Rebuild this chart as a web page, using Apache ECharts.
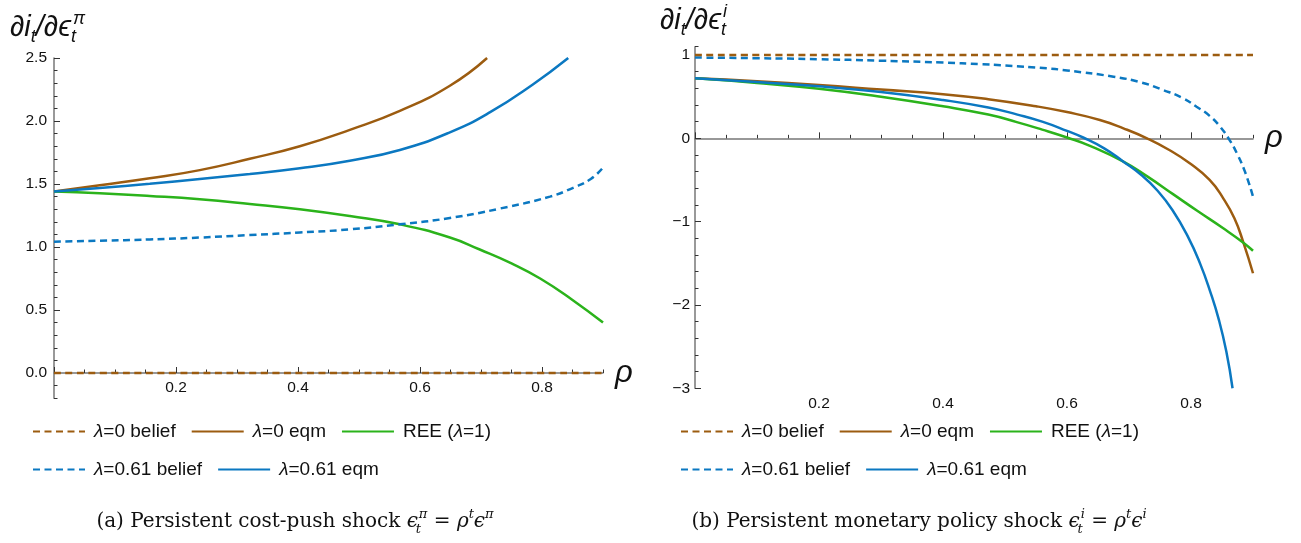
<!DOCTYPE html>
<html><head><meta charset="utf-8">
<script src="https://cdn.jsdelivr.net/npm/echarts@6/dist/echarts.min.js"></script>
<style>html,body{margin:0;padding:0;background:#fff}#c{width:1301px;height:543px}</style>
</head><body><div id="c"></div>
<script>
// ---------- DATA ----------
const rhoLabels = [0.2, 0.4, 0.6, 0.8];
const leftYLabels = [0, 0.5, 1, 1.5, 2, 2.5];
const rightYLabels = [-3, -2, -1, 0, 1];
const seriesNames = ['λ=0 belief', 'λ=0 eqm', 'REE (λ=1)', 'λ=0.61 belief', 'λ=0.61 eqm'];

// Panel (a): persistent cost-push shock  [rho, d i / d eps]
const a_belief0 = [[0, 0], [0.9, 0]];
const a_eqm0 = [[0,1.44],[0.075,1.49],[0.157,1.545],[0.239,1.61],[0.321,1.70],[0.403,1.80],[0.485,1.93],[0.567,2.08],[0.649,2.28],[0.71,2.5]];
const a_ree = [[0,1.44],[0.075,1.426],[0.157,1.405],[0.239,1.379],[0.321,1.342],[0.403,1.30],[0.485,1.246],[0.567,1.18],[0.649,1.075],[0.698,0.98],[0.75,0.87],[0.797,0.75],[0.85,0.58],[0.9,0.40]];
const a_belief61 = [[0,1.042],[0.075,1.05],[0.157,1.06],[0.239,1.075],[0.321,1.095],[0.403,1.115],[0.485,1.14],[0.567,1.18],[0.649,1.23],[0.731,1.305],[0.813,1.40],[0.851,1.47],[0.88,1.54],[0.9,1.63]];
const a_eqm61 = [[0,1.44],[0.075,1.468],[0.157,1.502],[0.239,1.54],[0.321,1.58],[0.403,1.625],[0.485,1.685],[0.567,1.77],[0.649,1.91],[0.715,2.07],[0.785,2.29],[0.843,2.5]];

// Panel (b): persistent monetary policy shock
const b_belief0 = [[0, 1], [0.9, 1]];
const b_eqm0 = [[0,0.72],[0.1,0.685],[0.2,0.64],[0.3,0.585],[0.4,0.53],[0.473,0.47],[0.55,0.385],[0.6,0.315],[0.653,0.22],[0.691,0.12],[0.729,0],[0.765,-0.14],[0.798,-0.30],[0.83,-0.50],[0.852,-0.72],[0.87,-0.96],[0.884,-1.24],[0.9,-1.62]];
const b_ree = [[0,0.72],[0.1,0.665],[0.2,0.595],[0.3,0.50],[0.4,0.385],[0.473,0.285],[0.519,0.195],[0.56,0.105],[0.6,0.01],[0.637,-0.09],[0.691,-0.28],[0.73,-0.46],[0.771,-0.67],[0.81,-0.87],[0.852,-1.08],[0.884,-1.25],[0.9,-1.35]];
const b_belief61 = [[0,0.97],[0.1,0.962],[0.2,0.95],[0.3,0.932],[0.4,0.91],[0.46,0.89],[0.5,0.875],[0.567,0.84],[0.6,0.815],[0.675,0.74],[0.72,0.67],[0.755,0.58],[0.785,0.49],[0.809,0.38],[0.83,0.27],[0.847,0.14],[0.863,-0.03],[0.874,-0.18],[0.887,-0.40],[0.9,-0.70]];
const b_eqm61 = [[0,0.72],[0.1,0.675],[0.2,0.625],[0.3,0.555],[0.4,0.46],[0.473,0.37],[0.52,0.285],[0.56,0.20],[0.6,0.09],[0.626,0.01],[0.66,-0.12],[0.691,-0.28],[0.72,-0.44],[0.745,-0.62],[0.77,-0.86],[0.795,-1.18],[0.815,-1.51],[0.831,-1.84],[0.845,-2.18],[0.857,-2.56],[0.867,-3.0]];

// ---------- STYLE / LAYOUT ----------
const BROWN = '#9C5C10', GREEN = '#2BB31B', BLUE = '#0B78C1';
const seriesStyle = [
  {color: BROWN, type: [7, 4.5]},
  {color: BROWN, type: 'solid'},
  {color: GREEN, type: 'solid'},
  {color: BLUE, type: [7, 4.5]},
  {color: BLUE, type: 'solid'}
];
const panels = [
  {left: 54, xw: 610, top: 58, ymin: -0.2, ymax: 2.5, ypx: 126, yMinor: 0.1,
   yMajMin: 0, yMajMax: 2.5, yMaj: 0.5, yLabels: leftYLabels, yFmt: v => v.toFixed(1), yMargin: 7,
   data: [a_belief0, a_eqm0, a_ree, a_belief61, a_eqm61]},
  {left: 695, xw: 620, top: 46.7, ymin: -3, ymax: 1.1, ypx: 83.3, yMinor: 0.2,
   yMajMin: -3, yMajMax: 1, yMaj: 1, yLabels: rightYLabels, yFmt: v => String(v).replace('-', '\u2212'), yMargin: 5,
   data: [b_belief0, b_eqm0, b_ree, b_belief61, b_eqm61]}
];

const AXIS_COLOR = '#777', TICK_COLOR = '#333';
const labelFont = {fontFamily: 'Liberation Sans', fontSize: 15.5, color: '#111'};

const grid = [], xAxis = [], yAxis = [], series = [];
panels.forEach((p, pi) => {
  const gA = grid.length;
  grid.push({left: p.left, top: p.top, width: 0.9 * p.xw, height: (p.ymax - p.ymin) * p.ypx, containLabel: false});
  xAxis.push({gridIndex: gA, type: 'value', min: 0, max: 0.9, interval: 0.05,
    axisLine: {show: true, onZero: true, lineStyle: {color: AXIS_COLOR, width: 1.5}},
    axisTick: {show: true, inside: true, length: 3.5, lineStyle: {color: TICK_COLOR}},
    axisLabel: {show: false}, splitLine: {show: false},
    name: 'ρ', nameLocation: 'end', nameGap: 12,
    nameTextStyle: {fontFamily: 'Liberation Sans', fontStyle: 'italic', fontSize: 31, color: '#111',
      verticalAlign: 'middle', padding: [20, 0, 0, 0]}});
  yAxis.push({gridIndex: gA, type: 'value', min: p.ymin, max: p.ymax, interval: p.yMinor,
    axisLine: {show: true, onZero: false, lineStyle: {color: AXIS_COLOR, width: 1.5}},
    axisTick: {show: true, inside: true, length: 3.5, lineStyle: {color: TICK_COLOR}},
    axisLabel: {show: false}, splitLine: {show: false}});
  const gM = grid.length;
  grid.push({left: p.left, top: p.top + (p.ymax - p.yMajMax) * p.ypx, width: 0.8 * p.xw,
    height: (p.yMajMax - p.yMajMin) * p.ypx, containLabel: false});
  xAxis.push({gridIndex: gM, type: 'value', min: 0, max: 0.8, interval: 0.2,
    axisLine: {show: false, onZero: true},
    axisTick: {show: true, inside: true, length: 6, lineStyle: {color: TICK_COLOR}},
    axisLabel: Object.assign({show: true, margin: 7,
      formatter: v => rhoLabels.some(r => Math.abs(r - v) < 1e-9) ? v.toFixed(1) : ''}, labelFont),
    splitLine: {show: false}});
  yAxis.push({gridIndex: gM, type: 'value', min: p.yMajMin, max: p.yMajMax, interval: p.yMaj,
    axisLine: {show: false, onZero: false},
    axisTick: {show: true, inside: true, length: 6, lineStyle: {color: TICK_COLOR}},
    axisLabel: Object.assign({show: true, margin: p.yMargin,
      formatter: v => p.yLabels.some(r => Math.abs(r - v) < 1e-9) ? p.yFmt(v) : ''}, labelFont),
    splitLine: {show: false}});
  p.data.forEach((d, si) => {
    series.push({
      type: 'line', name: seriesNames[si], data: d,
      xAxisIndex: gA, yAxisIndex: gA,
      symbol: 'none', smooth: 0.5, clip: true,
      lineStyle: {color: seriesStyle[si].color, width: 2.5, type: seriesStyle[si].type},
      itemStyle: {color: seriesStyle[si].color},
      z: si === 0 ? 3 : 2
    });
  });
});

function legendRow(left, top, names) {
  return {
    left: left, top: top, padding: 0, orient: 'horizontal', data: names, selectedMode: false,
    itemWidth: 52, itemHeight: 14, itemGap: 15,
    itemStyle: {opacity: 0},
    textStyle: {fontFamily: 'Liberation Sans', fontSize: 19, color: '#111', padding: [0, 0, 0, 4],
      rich: {i: {fontFamily: 'Liberation Sans', fontStyle: 'italic', fontSize: 19, color: '#111'}}},
    formatter: n => n.replace('λ', '{i|λ}')
  };
}
const legend = [
  legendRow(32, 422, seriesNames.slice(0, 3)),
  legendRow(32, 460, seriesNames.slice(3)),
  legendRow(680, 422, seriesNames.slice(0, 3)),
  legendRow(680, 460, seriesNames.slice(3))
];

const nameRich = {
  m: {fontFamily: 'Liberation Sans', fontStyle: 'italic', fontSize: 29, fill: '#111', lineHeight: 36, verticalAlign: 'middle'},
  sb: {fontFamily: 'Liberation Sans', fontStyle: 'italic', fontSize: 18, fill: '#111', lineHeight: 14, verticalAlign: 'bottom'},
  sbz: {fontFamily: 'Liberation Sans', fontStyle: 'italic', fontSize: 18, fill: '#111', lineHeight: 14, verticalAlign: 'bottom', width: 2},
  sp: {fontFamily: 'Liberation Sans', fontStyle: 'italic', fontSize: 18, fill: '#111', lineHeight: 15, verticalAlign: 'top'}
};
const CAPF = 'DejaVu Serif';
const capRich = {
  r: {fontFamily: CAPF, fontSize: 20, fill: '#111', lineHeight: 28, verticalAlign: 'middle'},
  e: {fontFamily: CAPF, fontStyle: 'italic', fontSize: 20, fill: '#111', lineHeight: 28, verticalAlign: 'middle'},
  sbz: {fontFamily: CAPF, fontStyle: 'italic', fontSize: 13, fill: '#111', lineHeight: 10, verticalAlign: 'bottom', width: 1},
  sp: {fontFamily: CAPF, fontStyle: 'italic', fontSize: 13, fill: '#111', lineHeight: 11, verticalAlign: 'top'}
};

const graphic = [
  {type: 'text', x: 10, y: 10, style: {text: '{m|∂i}{sb|t}{m|/∂ϵ}{sbz|t}{sp|π}', rich: nameRich, align: 'left', verticalAlign: 'top'}},
  {type: 'text', x: 660, y: 3, style: {text: '{m|∂i}{sb|t}{m|/∂ϵ}{sbz|t}{sp|i}', rich: nameRich, align: 'left', verticalAlign: 'top'}},
  {type: 'text', x: 295, y: 522, style: {text: '{r|(a) Persistent cost-push shock }{e|ϵ}{sbz|t}{sp|π}{r| = }{e|ρ}{sp|t}{e|ϵ}{sp|π}', rich: capRich, align: 'center', verticalAlign: 'middle'}},
  {type: 'text', x: 919, y: 522, style: {text: '{r|(b) Persistent monetary policy shock }{e|ϵ}{sbz|t}{sp|i}{r| = }{e|ρ}{sp|t}{e|ϵ}{sp|i}', rich: capRich, align: 'center', verticalAlign: 'middle'}}
];

const chart = echarts.init(document.getElementById('c'), null, {renderer: 'canvas'});
chart.setOption({
  animation: false, backgroundColor: '#fff',
  grid, xAxis, yAxis, series, legend, graphic
});
</script></body></html>
